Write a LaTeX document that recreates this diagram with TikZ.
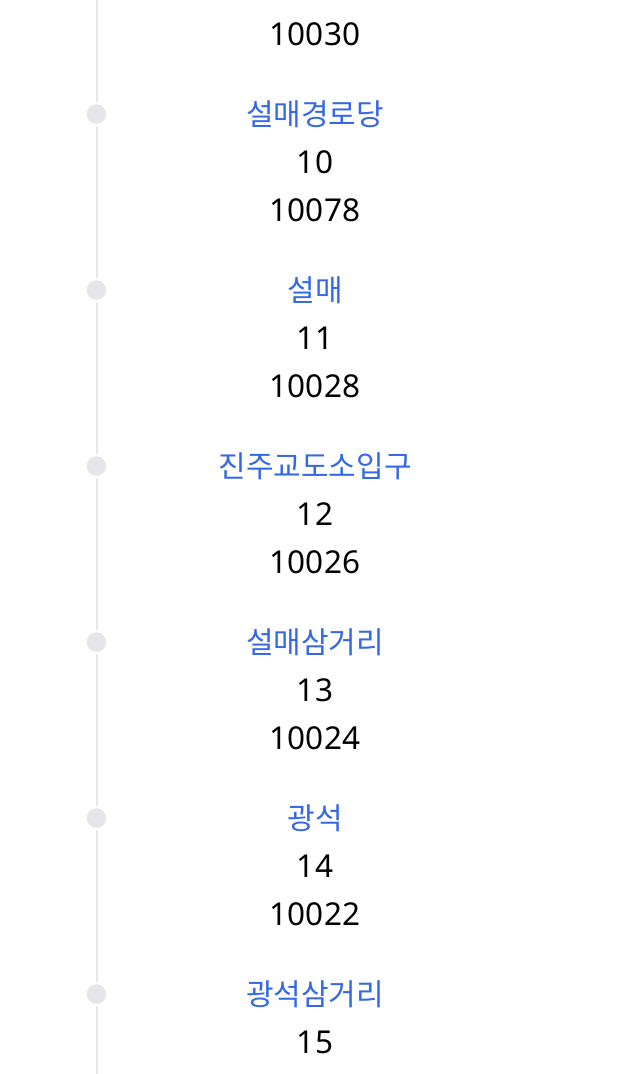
\documentclass[tikz,border=0pt]{standalone}
\usepackage{fontspec}
\setmainfont{Noto Sans}
\newfontfamily\krfont{Noto Sans CJK KR}
\definecolor{linegray}{HTML}{E5E5EA}
\definecolor{stopblue}{HTML}{3568E3}
\definecolor{txtblack}{HTML}{000000}
\begin{document}
\begin{tikzpicture}[x=1pt,y=-1pt,
  dotnode/.style={circle,fill=linegray,draw=none,minimum size=19.5pt,inner sep=0pt},
  railline/.style={draw=linegray,line width=2pt},
  gapped/.style={shorten <=2.5pt,shorten >=2.5pt},
  stopname/.style={anchor=base,inner sep=0pt,text=stopblue,font=\krfont\fontsize{30}{30}\selectfont},
  stopinfo/.style={anchor=base,inner sep=0pt,text=txtblack,font=\fontsize{31.5}{31.5}\selectfont}]
\useasboundingbox (0,0) rectangle (620,1074);
\fill[white] (0,0) rectangle (620,1074);
\coordinate (top) at (96.5,0);
\coordinate (bottom) at (96.5,1074);
\node[stopinfo] (id0) at (315,45) {10030};
\foreach \i/\nm/\num/\id in {1/설매경로당/10/10078,2/설매/11/10028,3/진주교도소입구/12/10026,4/설매삼거리/13/10024,5/광석/14/10022}{
  \pgfmathsetmacro{\D}{114+176*(\i-1)}
  \node[dotnode] (d\i) at (96.5,\D) {};
  \node[stopname] (n\i) at (315,\D+11) {\nm};
  \node[stopinfo] (k\i) at (315,\D+59) {\num};
  \node[stopinfo] (id\i) at (315,\D+107) {\id};
}
\node[dotnode] (d6) at (96.5,994) {};
\node[stopname] (n6) at (315,1005) {광석삼거리};
\node[stopinfo] (k6) at (315,1053) {15};
\draw[railline,shorten >=2.5pt] (top) -- (d1);
\draw[railline,gapped] (d1) -- (d2);
\draw[railline,gapped] (d2) -- (d3);
\draw[railline,gapped] (d3) -- (d4);
\draw[railline,gapped] (d4) -- (d5);
\draw[railline,gapped] (d5) -- (d6);
\draw[railline,shorten <=2.5pt] (d6) -- (bottom);
\end{tikzpicture}
\end{document}
